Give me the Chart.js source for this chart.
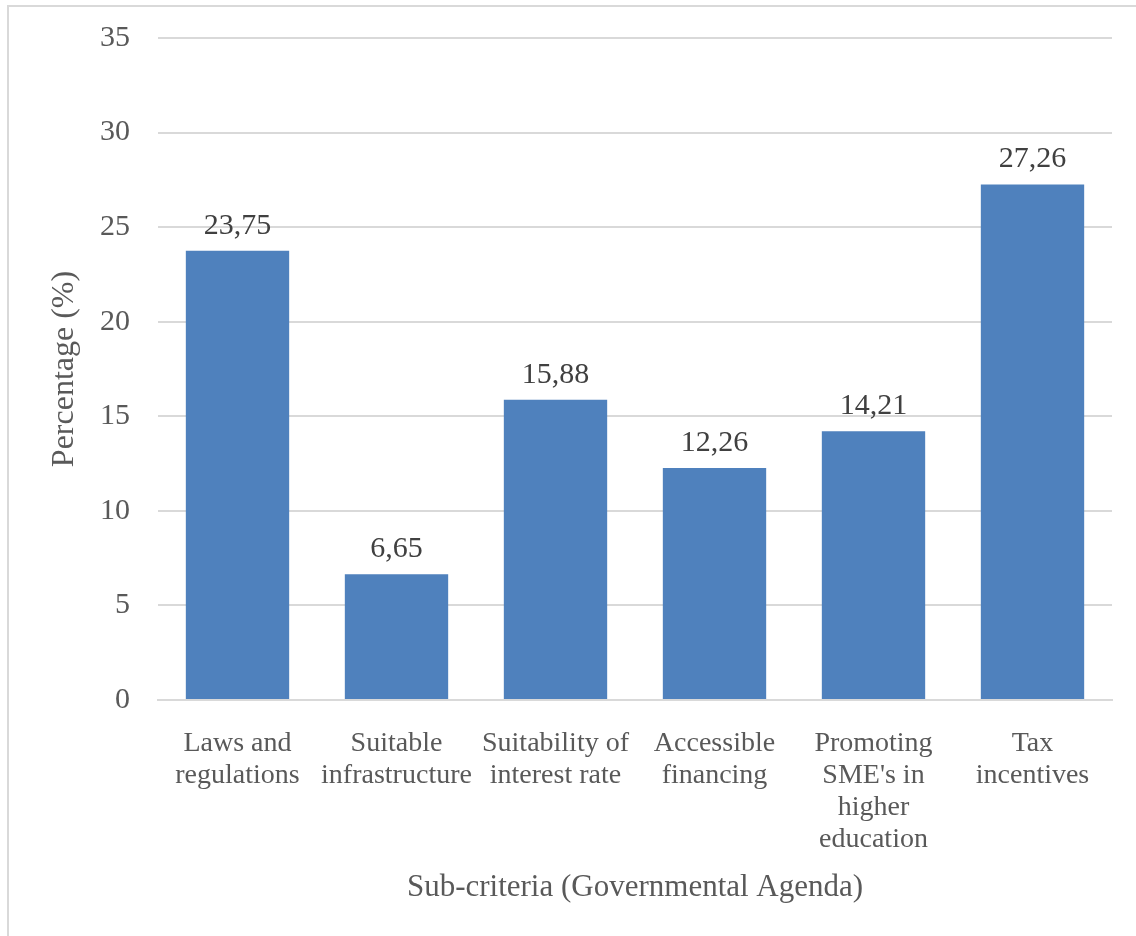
<!DOCTYPE html>
<html>
<head>
<meta charset="utf-8">
<script src="https://cdn.jsdelivr.net/npm/chart.js@4/dist/chart.umd.min.js"></script>
<style>
  html, body { margin: 0; padding: 0; background: #fff; }
  #wrap { width: 1136px; height: 936px; }
</style>
</head>
<body>
<div id="wrap"><canvas id="myChart"></canvas></div>
<script>
const categories = [
  ['Laws and', 'regulations'],
  ['Suitable', 'infrastructure'],
  ['Suitability of', 'interest rate'],
  ['Accessible', 'financing'],
  ['Promoting', "SME's in", 'higher', 'education'],
  ['Tax', 'incentives']
];
const percentages = [23.75, 6.65, 15.88, 12.26, 14.21, 27.26];
const yTicks = [0, 5, 10, 15, 20, 25, 30, 35];

const serif = '"Liberation Serif", "Times New Roman", serif';

// frame around the whole chart
const framePlugin = {
  id: 'frame',
  beforeDraw(chart) {
    const c = chart.ctx;
    c.save();
    c.strokeStyle = '#d9d9d9';
    c.lineWidth = 2;
    c.strokeRect(8, 6, chart.width + 20, chart.height + 20);
    c.restore();
  }
};

// values written above each bar, decimal comma
const valueLabels = {
  id: 'valueLabels',
  afterDatasetsDraw(chart) {
    const c = chart.ctx;
    const meta = chart.getDatasetMeta(0);
    c.save();
    c.font = '30px ' + serif;
    c.fillStyle = '#404040';
    c.textAlign = 'center';
    c.textBaseline = 'alphabetic';
    meta.data.forEach((bar, i) => {
      const txt = percentages[i].toFixed(2).replace('.', ',');
      c.fillText(txt, bar.x, bar.y - 17);
    });
    c.restore();
  }
};

const ctx = document.getElementById('myChart');
const data = {
  labels: categories,
  datasets: [{
    label: 'Percentage',
    data: percentages,
    backgroundColor: '#4f81bd',
    borderWidth: 0,
    categoryPercentage: 1,
    barPercentage: 0.65
  }]
};

const config = {
  type: 'bar',
  data,
  options: {
    responsive: true,
    maintainAspectRatio: false,
    animation: false,
    layout: { padding: { left: 45, right: 24, top: 38, bottom: 30 } },
    plugins: {
      legend: { display: false },
      tooltip: { enabled: false }
    },
    scales: {
      x: {
        afterFit(axis) {
          axis.height = 206;
        },
        grid: { display: false, drawTicks: false },
        border: { color: '#d9d9d9', width: 2 },
        ticks: {
          color: '#595959',
          font: { family: serif, size: 28, lineHeight: 1.14 },
          padding: 28,
          maxRotation: 0,
          autoSkip: false
        },
        title: {
          display: true,
          text: 'Sub-criteria (Governmental Agenda)',
          color: '#595959',
          font: { family: serif, size: 31 },
          padding: { top: 8, bottom: 0 }
        }
      },
      y: {
        min: 0,
        max: 35,
        afterBuildTicks(axis) {
          axis.ticks = yTicks.map(v => ({ value: v }));
        },
        afterFit(axis) {
          axis.width = 113;
          axis.paddingTop = 0;
          axis.paddingBottom = 0;
        },
        grid: { color: '#d9d9d9', lineWidth: 2, drawTicks: false },
        border: { display: false },
        ticks: {
          color: '#595959',
          font: { family: serif, size: 30 },
          padding: 28
        },
        title: {
          display: true,
          text: 'Percentage (%)',
          color: '#595959',
          font: { family: serif, size: 32 },
          padding: 0
        }
      }
    }
  },
  plugins: [framePlugin, valueLabels]
};

new Chart(ctx, config);
</script>
</body>
</html>
